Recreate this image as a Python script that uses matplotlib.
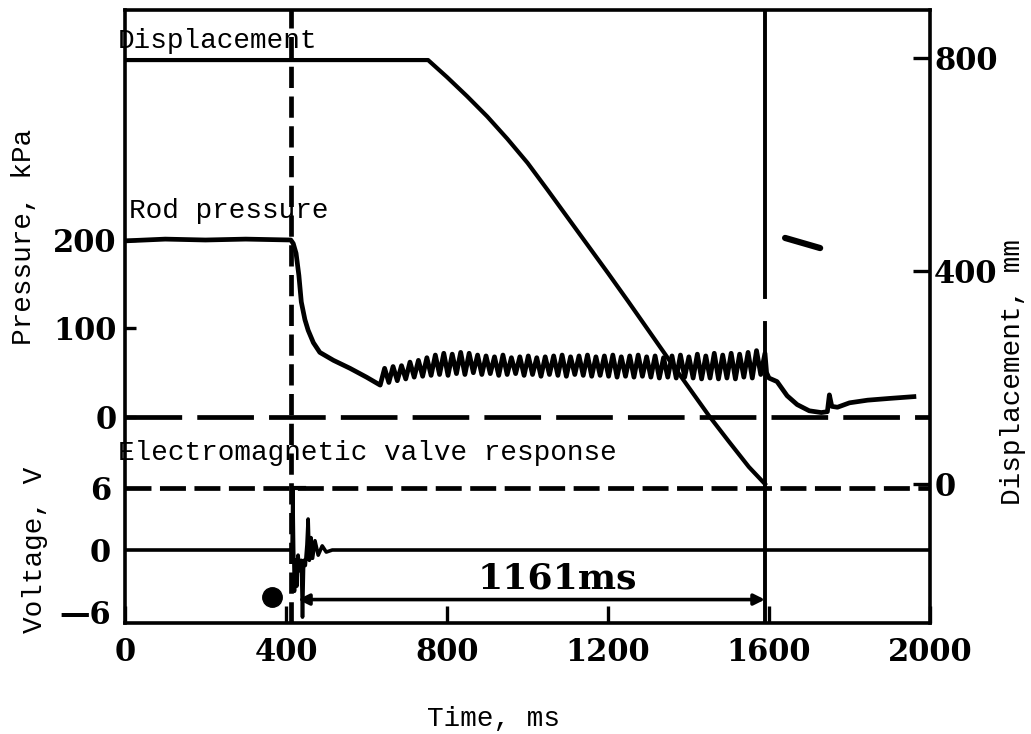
import numpy as np
import matplotlib.pyplot as plt

# axis ticks
time_ticks = [0, 400, 800, 1200, 1600, 2000]
pressure_ticks = [0, 100, 200]
voltage_ticks = [-6, 0, 6]
voltage_tick_labels = ['\u20146', '0', '6']
displacement_ticks = [0, 400, 800]

# event markers (ms)
t_valve = 412
t_stop = 1590
arrow_t = [430, 1590]
arrow_v = -4.8
interval_label = '1161ms'
dot_t, dot_v = 365, -4.6
pressure_ref = 0
voltage_ref = 6

# displacement, mm
disp_t = [0, 753, 800, 850, 900, 950, 1000, 1050, 1100, 1150, 1200, 1250,
          1300, 1350, 1400, 1450, 1500, 1550, 1590]
disp_mm = [796, 796, 764, 728, 690, 648, 603, 552, 500, 448, 396, 343,
           289, 235, 182, 129, 80, 32, 0]
stray_t = [1640, 1727]
stray_mm = [462, 443]

# rod pressure, kPa
press_head_t = [0, 100, 200, 300, 412, 418, 425, 432, 438, 447, 455, 468,
                484, 518, 559, 600, 634]
press_head = [199, 201, 200, 201, 200, 196, 185, 160, 130, 110, 98, 84,
              73, 64, 55, 45, 36]
osc_t0, osc_dt = 645, 10.5
press_osc = [55, 39, 57, 41, 58, 43, 62, 45, 64, 46,
             67, 47, 70, 48, 72, 47, 71, 49, 73, 48,
             72, 50, 70, 48, 69, 49, 68, 47, 70, 48,
             67, 49, 68, 47, 69, 48, 67, 46, 68, 48,
             69, 47, 70, 46, 68, 48, 69, 47, 70, 46,
             68, 47, 69, 46, 70, 45, 68, 46, 69, 45,
             70, 46, 68, 45, 69, 44, 67, 45, 69, 44,
             70, 45, 68, 44, 71, 43, 69, 44, 72, 43,
             70, 44, 72, 43, 71, 45, 73, 44, 75, 48]
press_tail_t = [1590, 1594, 1600, 1620, 1645, 1670, 1700, 1730, 1745, 1750,
                1756, 1770, 1800, 1845, 1900, 1960]
press_tail = [72, 50, 44, 40, 24, 14, 7, 5, 6, 25, 12, 11, 16, 19, 21, 23]

# electromagnetic valve response, V
volt_t = [0, 415, 417, 419, 421, 424, 427, 430, 434, 438, 441, 444, 448,
          452, 455, 458, 462, 466, 472, 480, 490, 500, 515, 2000]
volt_v = [0, 0, 6, 0, -4, -1, -3.5, -0.5, -2, -1, -6.5, -1, -1.5,
          0.5, 3, -1, 1.2, -0.8, 0.9, -0.5, 0.4, -0.2, 0, 0]
step_t = [417, 445]

plt.rcParams['font.family'] = 'DejaVu Serif'
plt.rcParams['font.weight'] = 'bold'
mono = dict(family='Liberation Mono', fontweight='normal', fontsize=20)

fig = plt.figure(figsize=(10.31, 7.34), dpi=100)
ax = fig.add_axes([125 / 1031, 1 - 623 / 734, 805 / 1031, 613 / 734])
ax_v = ax.twinx()
ax_d = ax.twinx()

ax.set_xlim(0, 2000)
ax.set_ylim(-232.8, 459.9)
ax_v.set_ylim(-7.07, 52.3)
ax_d.set_ylim(-261, 890)

for a in (ax, ax_v, ax_d):
    for s in a.spines.values():
        s.set_linewidth(2.6)
for a in (ax_v, ax_d):
    for s in a.spines.values():
        s.set_visible(False)

# pressure
osc_t = osc_t0 + osc_dt * np.arange(len(press_osc))
p_t = np.concatenate([press_head_t, osc_t, press_tail_t])
p_v = np.concatenate([press_head, press_osc, press_tail])
ax.plot(p_t, p_v, color='black', lw=3.4, solid_joinstyle='round')
ax.axhline(pressure_ref, color='black', lw=3.4, dashes=(12, 3.2))

# displacement
ax_d.plot(disp_t, disp_mm, color='black', lw=3.0)
ax_d.plot(stray_t, stray_mm, color='black', lw=4.5, solid_capstyle='round')

# voltage
ax_v.plot(volt_t, volt_v, color='black', lw=2.6)
ax_v.axhline(voltage_ref, color='black', lw=3.4, dashes=(5.5, 1.8))
ax_v.plot(step_t, [voltage_ref, voltage_ref], color='black', lw=3.0)
ax_v.plot([dot_t], [dot_v], 'o', color='black', ms=14)
ax_v.annotate('', xy=(arrow_t[0], arrow_v), xytext=(arrow_t[1], arrow_v),
              arrowprops=dict(arrowstyle='<|-|>', lw=2.6, color='black',
                              mutation_scale=16, shrinkA=0, shrinkB=0))
ax_v.text(1075, -2.8, interval_label, ha='center', va='center', fontsize=26)

# event markers
ax.axvline(t_valve, color='black', lw=3.4, dashes=(4.5, 1.8))
ax.axvline(t_stop, 0, 0.489, color='black', lw=2.8)
ax.axvline(t_stop, 0.532, 1, color='black', lw=2.8)

# ticks
ax.set_xticks(time_ticks)
ax.set_yticks(pressure_ticks)
ax_v.set_yticks(voltage_ticks)
ax_v.set_yticklabels(voltage_tick_labels)
ax_v.yaxis.tick_left()
ax_d.set_yticks(displacement_ticks)
ax.tick_params(axis='x', direction='in', length=12, width=2.4, labelsize=22, pad=10)
ax.tick_params(axis='y', direction='in', length=8, width=2.4, labelsize=22, pad=6)
ax_v.tick_params(axis='y', direction='in', length=0, labelsize=22, pad=10)
ax_d.tick_params(axis='y', direction='in', length=12, width=2.4, labelsize=22, pad=3)

# labels, centred on their read-off positions
xl = ax.set_xlabel('Time, ms', **mono)
ax.xaxis.set_label_coords(0.458, -0.157)
yl_p = ax.set_ylabel('Pressure, kPa', **mono)
ax.yaxis.set_label_coords(-0.1255, 0.63)
yl_v = ax_v.set_ylabel('Voltage, V', **mono)
ax_v.yaxis.set_label_position('left')
ax_v.yaxis.set_label_coords(-0.112, 0.119)
yl_d = ax_d.set_ylabel('Displacement, mm', rotation=90, **mono)
ax_d.yaxis.set_label_coords(1.103, 0.409)
for lab in (xl, yl_p, yl_v, yl_d):
    lab.set_ha('center')
    lab.set_va('center')

ax.text(-0.009, 0.949, 'Displacement', transform=ax.transAxes, va='center', **mono)
ax.text(0.005, 0.672, 'Rod pressure', transform=ax.transAxes, va='center', **mono)
ax.text(-0.009, 0.277, 'Electromagnetic valve response', transform=ax.transAxes,
        va='center', **mono)

fig.savefig('out.png', dpi=100)
